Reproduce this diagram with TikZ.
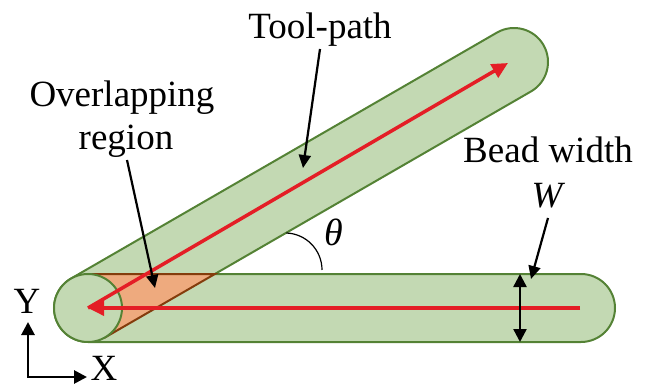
\documentclass[tikz,border=0pt]{standalone}
\usepackage{fontspec}
\setmainfont{Liberation Serif}
\usetikzlibrary{arrows.meta,calc}
\definecolor{gfill}{HTML}{C3D9B3}
\definecolor{gline}{HTML}{548235}
\definecolor{ofill}{HTML}{EEAA7E}
\definecolor{oline}{HTML}{843C0C}
\definecolor{rline}{HTML}{E41E26}
\begin{document}
\begin{tikzpicture}[x=1pt,y=1pt,
  bead/.style={fill=gfill,draw=gline,line width=2pt},
  overlap/.style={fill=ofill,draw=oline,line width=2pt,line join=miter},
  redpath/.style={draw=rline,line width=3.5pt,-{Triangle[length=16pt,width=15pt]}},
  callout/.style={draw=black,line width=2.2pt,-{Triangle[length=13pt,width=12pt]}},
  dbl/.style={draw=black,line width=2.4pt,{Triangle[length=13pt,width=13pt]}-{Triangle[length=13pt,width=13pt]}},
  lbl/.style={font=\fontsize{37}{43}\selectfont,inner sep=0pt},
  anglearc/.style={draw=black,line width=1.2pt}]
\useasboundingbox (0,0) rectangle (646,389);
\def\r{34}
\coordinate (A) at (88,81);
\coordinate (B) at (514,327);
\coordinate (C) at (581,81);
% diagonal bead
\draw[bead] ($(A)+(120:\r)$) -- ($(B)+(120:\r)$) arc[start angle=120,end angle=-60,radius=\r] -- ($(A)+(-60:\r)$) arc[start angle=300,end angle=120,radius=\r] -- cycle;
% horizontal bead
\draw[bead] (88,115) -- (581,115) arc[start angle=90,end angle=-90,radius=\r] -- (88,47);
% overlapping region
\coordinate (Lt) at ($(A)+(-60:\r)$);
\coordinate (Ov) at (214.9,115);
\draw[overlap] (88,115) -- (Ov) -- (Lt) -- (A) -- cycle;
% start circle
\draw[bead] (A) circle[radius=\r];
% tool path
\coordinate (Hs) at (580,81);
\coordinate (Dt) at (508,326);
\draw[redpath] (Hs) -- (A);
\draw[redpath] (A) -- (Dt);
% angle
\draw[anglearc] (286.3,156.0) arc[start angle=88,end angle=0,radius=37];
\node[inner sep=0pt] (theta) at (334,157) {\fontsize{38}{38}\selectfont\itshape θ};
% labels
\node[lbl,anchor=base] (tp) at (320,350) {Tool-path};
\node[lbl,anchor=base] (ov1) at (122,282) {Overlapping};
\node[lbl,anchor=base] (ov2) at (126,239) {region};
\node[lbl,anchor=base] (bw) at (548,226) {Bead width};
\node[lbl,anchor=base] (w) at (547,182) {\itshape W};
\node[lbl,anchor=base] (ylab) at (27,76) {Y};
\node[lbl,anchor=base] (xlab) at (104,9) {X};
% callouts
\coordinate (tpS) at (320,340);
\coordinate (tpE) at (303,221);
\draw[callout] (tpS) -- (tpE);
\coordinate (ovS) at (127,229);
\coordinate (ovE) at (155,101);
\draw[callout] (ovS) -- (ovE);
\coordinate (bwS) at (548,171);
\coordinate (bwE) at (531,110);
\draw[callout] (bwS) -- (bwE);
% width dimension
\coordinate (wT) at (520,115);
\coordinate (wB) at (520,47);
\draw[dbl] (wT) -- (wB);
% axes
\coordinate (ax0) at (28,12);
\coordinate (axY) at (28,67);
\coordinate (axX) at (87,12);
\draw[dbl,line width=2.8pt,line join=miter] (axY) -- (ax0) -- (axX);
\end{tikzpicture}
\end{document}
